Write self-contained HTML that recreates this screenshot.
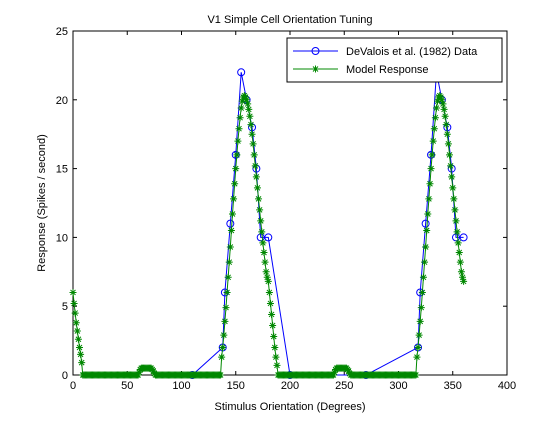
<!DOCTYPE html>
<html><head><meta charset="utf-8"><style>
body{margin:0;background:#fff;}
svg{font-family:"Liberation Sans",sans-serif;}
</style></head><body>
<svg id="chart" width="560" height="420">
<rect width="560" height="420" fill="#fff"/>
<rect x="73" y="31" width="434" height="344" fill="#fff" stroke="#000" stroke-width="1"/>
<text x="290" y="23" font-size="11" text-anchor="middle">V1 Simple Cell Orientation Tuning</text>
<text x="290" y="410" font-size="11" text-anchor="middle">Stimulus Orientation (Degrees)</text>
<text transform="translate(45,203) rotate(-90)" font-size="11" text-anchor="middle">Response (Spikes / second)</text>
<g id="ticks"></g>
<g id="series"></g>
<g>
<rect x="287" y="38" width="215" height="44" fill="#fff" stroke="#000"/>
<line x1="293" y1="51" x2="338" y2="51" stroke="#00f"/>
<circle cx="315.5" cy="51" r="3.5" fill="none" stroke="#00f"/>
<text x="346" y="55" font-size="11">DeValois et al. (1982) Data</text>
<line x1="293" y1="69" x2="338" y2="69" stroke="#080"/>
<path d="M312,69h7M315.5,65.5v7M313,66.5l5,5M318,66.5l-5,5" stroke="#080" stroke-width="1"/>
<text x="346" y="73" font-size="11">Model Response</text>
</g>
</svg>
<script>
const xTicks=[0,50,100,150,200,250,300,350,400];
const yTicks=[0,5,10,15,20,25];
const dataX=[110,138,140,145,150,155,160,165,169,173,180,200,270,318,320,325,330,335,340,345,349,353,360];
const dataY=[0,2,6,11,16,22,20,18,15,10,10,0,0,2,6,11,16,22,20,18,15,10,10];
const startSeg=[6,5.2,4.5,3.8,3.2,2.6,2,1.5,0.9];
const bumpSeg=[0.2,0.4,0.5,0.5,0.5,0.5,0.5,0.5,0.5,0.5,0.5,0.5,0.4,0.3,0.1];
const peakSeg=[1.3,2,2.9,3.9,4.9,6,7.1,8.2,9.3,10.5,11.7,12.8,13.9,15,16,17,17.9,18.7,19.4,19.9,20.2,20.3,20.2,20,19.7,19.3,18.8,18.2,17.5,16.8,16,15.2,14.4,13.6,12.8,12,11.2,10.4,9.6,8.9,8.2,7.5,7.1,6.8,6,5.2,4.4,3.6,2.8,2,1.3,0.7];
const z=n=>Array(n).fill(0);
// degrees 0..360 step 1
const modelY=[].concat(startSeg,z(52),bumpSeg,z(61),peakSeg.slice(),
  z(52),bumpSeg,z(61),peakSeg.slice(0,44));
const X0=73,X1=507,Y0=375,Y1=31;
const sx=v=>X0+(v-0)/(400)*(X1-X0);
const sy=v=>Y0-(v/25)*(Y0-Y1);
const NS="http://www.w3.org/2000/svg";
function mk(t,a,p){const e=document.createElementNS(NS,t);for(const k in a)e.setAttribute(k,a[k]);p.appendChild(e);return e;}
const tg=document.getElementById('ticks');
xTicks.forEach(v=>{
  mk('line',{x1:sx(v),y1:Y0,x2:sx(v),y2:Y0-4,stroke:'#000'},tg);
  mk('line',{x1:sx(v),y1:Y1,x2:sx(v),y2:Y1+4,stroke:'#000'},tg);
  const t=mk('text',{x:sx(v),y:Y0+14,'font-size':11,'text-anchor':'middle'},tg);t.textContent=v;
  
  
});
yTicks.forEach(v=>{
  mk('line',{x1:X0,y1:sy(v),x2:X0+4,y2:sy(v),stroke:'#000'},tg);
  mk('line',{x1:X1,y1:sy(v),x2:X1-4,y2:sy(v),stroke:'#000'},tg);
  const t=mk('text',{x:X0-5,y:sy(v)+4,'font-size':11,'text-anchor':'end'},tg);t.textContent=v;
  
  
});
const sg=document.getElementById('series');
const dl=mk('polyline',{points:dataX.map((x,i)=>sx(x)+','+sy(dataY[i])).join(' '),fill:'none',stroke:'#00f','stroke-width':1},sg);


dataX.forEach((x,i)=>{
  const c=mk('circle',{cx:sx(x),cy:sy(dataY[i]),r:3.5,fill:'none',stroke:'#00f'},sg);
  
  
});
const ml=mk('polyline',{points:modelY.map((y,i)=>sx(i)+','+sy(y)).join(' '),fill:'none',stroke:'#080','stroke-width':1},sg);


modelY.forEach((y,i)=>{
  const cx=sx(i),cy=sy(y);
  const p=mk('path',{d:`M${cx-3.5},${cy}h7M${cx},${cy-3.5}v7M${cx-2.5},${cy-2.5}l5,5M${cx+2.5},${cy-2.5}l-5,5`,stroke:'#080','stroke-width':1,fill:'none'},sg);
  
  
});
</script>
</body></html>
